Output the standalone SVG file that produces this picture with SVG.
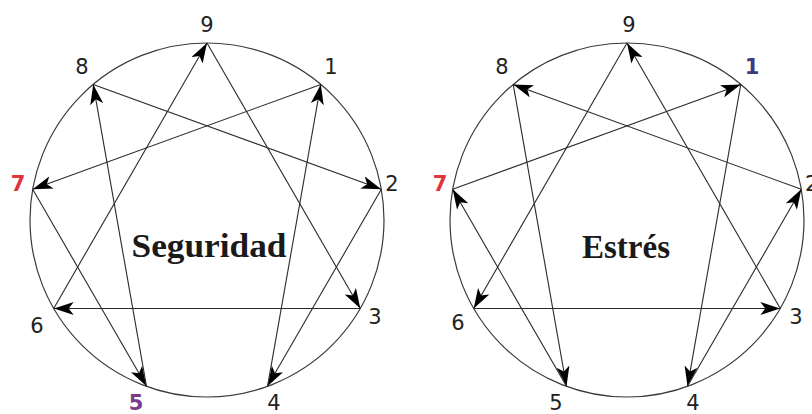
<svg xmlns="http://www.w3.org/2000/svg" width="812" height="414" viewBox="0 0 812 414">
<style>
.ring{fill:none;stroke:#3a3a3a;stroke-width:1.2}
.edge{fill:none;stroke:#2a2a2a;stroke-width:1.1;marker-end:url(#ah)}
.num{font-family:"DejaVu Sans",Verdana,sans-serif;font-size:21px;fill:#222;text-anchor:middle}
.title{font-family:"Liberation Serif","Times New Roman",serif;font-weight:bold;font-size:33px;fill:#1a1a1a;text-anchor:middle}
.red{fill:#e2333b;font-weight:bold}
.purple{fill:#7a3b8c;font-weight:bold}
.navy{fill:#3b3b7d;font-weight:bold}
</style>
<defs>
<marker id="ah" viewBox="0 0 20 13" refX="20" refY="6.5" markerWidth="20" markerHeight="13" markerUnits="userSpaceOnUse" orient="auto">
<path d="M0,0 L20,6.5 L0,13 L5,6.5 Z" fill="#000"/>
</marker>
</defs>
<rect width="812" height="414" fill="#fff"/>
<g id="left-diagram">
<circle class="ring" cx="207" cy="220" r="177"/>
<text class="title" x="209" y="257" textLength="155" lengthAdjust="spacingAndGlyphs">Seguridad</text>
</g>
<g id="right-diagram">
<circle class="ring" cx="627" cy="220" r="177"/>
<text class="title" x="626" y="258">Estrés</text>
</g>
<g id="connectors">
<line class="edge" x1="320.8" y1="84.4" x2="32.7" y2="189.3"/>
<line class="edge" x1="32.7" y1="189.3" x2="146.5" y2="386.3"/>
<line class="edge" x1="146.5" y1="386.3" x2="93.2" y2="84.4"/>
<line class="edge" x1="93.2" y1="84.4" x2="381.3" y2="189.3"/>
<line class="edge" x1="381.3" y1="189.3" x2="267.5" y2="386.3"/>
<line class="edge" x1="267.5" y1="386.3" x2="320.8" y2="84.4"/>
<line class="edge" x1="207" y1="43" x2="360.3" y2="308.5"/>
<line class="edge" x1="360.3" y1="308.5" x2="53.7" y2="308.5"/>
<line class="edge" x1="53.7" y1="308.5" x2="207" y2="43"/>
<line class="edge" x1="740.8" y1="84.4" x2="687.5" y2="386.3"/>
<line class="edge" x1="687.5" y1="386.3" x2="801.3" y2="189.3"/>
<line class="edge" x1="801.3" y1="189.3" x2="513.2" y2="84.4"/>
<line class="edge" x1="513.2" y1="84.4" x2="566.5" y2="386.3"/>
<line class="edge" x1="566.5" y1="386.3" x2="452.7" y2="189.3"/>
<line class="edge" x1="452.7" y1="189.3" x2="740.8" y2="84.4"/>
<line class="edge" x1="627" y1="43" x2="473.7" y2="308.5"/>
<line class="edge" x1="473.7" y1="308.5" x2="780.3" y2="308.5"/>
<line class="edge" x1="780.3" y1="308.5" x2="627" y2="43"/>
</g>
<g id="l9"><text class="num" x="207" y="32">9</text></g>
<g id="l8"><text class="num" x="82" y="74">8</text></g>
<g id="l1"><text class="num" x="331" y="74">1</text></g>
<g id="l7"><text class="num red" x="18" y="191">7</text></g>
<g id="l2"><text class="num" x="392" y="191">2</text></g>
<g id="l3"><text class="num" x="375" y="324">3</text></g>
<g id="l6"><text class="num" x="37" y="333">6</text></g>
<g id="l5"><text class="num purple" x="136" y="410">5</text></g>
<g id="l4"><text class="num" x="274" y="410">4</text></g>
<g id="r9"><text class="num" x="629" y="32">9</text></g>
<g id="r8"><text class="num" x="502" y="74">8</text></g>
<g id="r1"><text class="num navy" x="752" y="74">1</text></g>
<g id="r7"><text class="num red" x="440" y="191">7</text></g>
<g id="r2"><text class="num" x="805" y="191" style="text-anchor:start">2</text></g>
<g id="r3"><text class="num" x="796" y="324">3</text></g>
<g id="r6"><text class="num" x="458" y="330">6</text></g>
<g id="r5"><text class="num" x="556" y="410">5</text></g>
<g id="r4"><text class="num" x="693" y="410">4</text></g>
</svg>
